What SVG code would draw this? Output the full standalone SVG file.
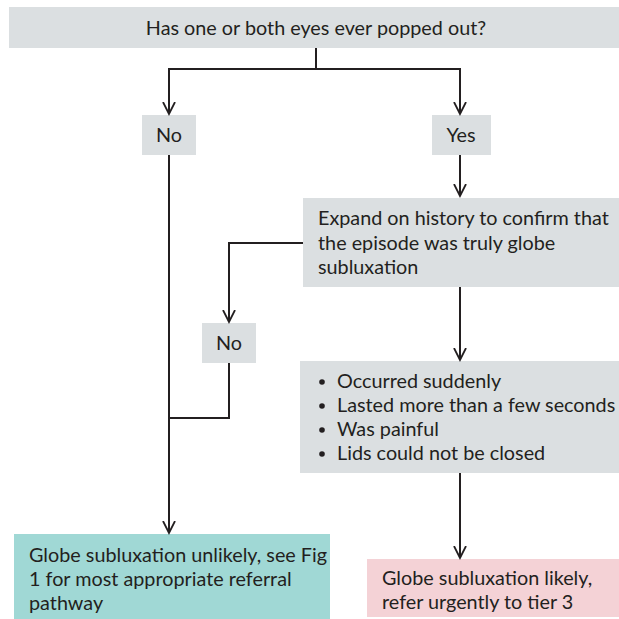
<svg xmlns="http://www.w3.org/2000/svg" width="619" height="619" viewBox="0 0 619 619">
<style>
.box{fill:#dbdfe1}
.teal{fill:#a0d8d5}
.pink{fill:#f4d2d6}
text{font-family:Lato,"Liberation Sans",sans-serif;font-size:19.8px;fill:#231f20}
.c{text-anchor:middle}
.ln{fill:none;stroke:#231f20;stroke-width:2}
</style>
<defs>
<marker id="arr" viewBox="0 0 14 14" refX="12" refY="7" markerWidth="14" markerHeight="14" markerUnits="userSpaceOnUse" orient="auto">
<path d="M0,1 L12,7 L0,13" fill="none" stroke="#231f20" stroke-width="1.8"/>
</marker>
</defs>
<g id="q1"><rect class="box" x="9" y="7" width="610" height="41"/><text class="c" x="316" y="35">Has one or both eyes ever popped out?</text></g>
<g id="no1"><rect class="box" x="142" y="115" width="54" height="40"/><text class="c" x="169" y="142">No</text></g>
<g id="yes1"><rect class="box" x="432" y="115" width="59" height="40"/><text class="c" x="461" y="142">Yes</text></g>
<g id="expand"><rect class="box" x="303" y="198" width="316" height="89"/>
<text x="318" y="225">Expand on history to confirm that</text>
<text x="318" y="250">the episode was truly globe</text>
<text x="318" y="274">subluxation</text></g>
<g id="no2"><rect class="box" x="202" y="323" width="54" height="40"/><text class="c" x="229" y="350">No</text></g>
<g id="criteria"><rect class="box" x="300" y="361" width="319" height="112"/>
<g><circle cx="322" cy="382" r="2.8" fill="#231f20"/><circle cx="322" cy="406" r="2.8" fill="#231f20"/><circle cx="322" cy="430" r="2.8" fill="#231f20"/><circle cx="322" cy="454" r="2.8" fill="#231f20"/></g>
<text x="337" y="388">Occurred suddenly</text>
<text x="337" y="412">Lasted more than a few seconds</text>
<text x="337" y="436">Was painful</text>
<text x="337" y="460">Lids could not be closed</text></g>
<g id="unlikely"><rect class="teal" x="14" y="534" width="316" height="85"/>
<text x="29" y="562">Globe subluxation unlikely, see Fig</text>
<text x="29" y="586">1 for most appropriate referral</text>
<text x="29" y="610">pathway</text></g>
<g id="likely"><rect class="pink" x="367" y="559" width="252" height="58"/>
<text x="382" y="585">Globe subluxation likely,</text>
<text x="382" y="609">refer urgently to tier 3</text></g>
<g id="connectors">
<path class="ln" d="M316,48 V69"/>
<path class="ln" d="M316,69 H169 V114" marker-end="url(#arr)"/>
<path class="ln" d="M316,69 H460 V114" marker-end="url(#arr)"/>
<path class="ln" d="M460,155 V196" marker-end="url(#arr)"/>
<path class="ln" d="M303,243 H229 V322" marker-end="url(#arr)"/>
<path class="ln" d="M460,287 V360" marker-end="url(#arr)"/>
<path class="ln" d="M169,155 V533" marker-end="url(#arr)"/>
<path class="ln" d="M229,363 V418 H169"/>
<path class="ln" d="M460,473 V558" marker-end="url(#arr)"/>
</g>
</svg>
